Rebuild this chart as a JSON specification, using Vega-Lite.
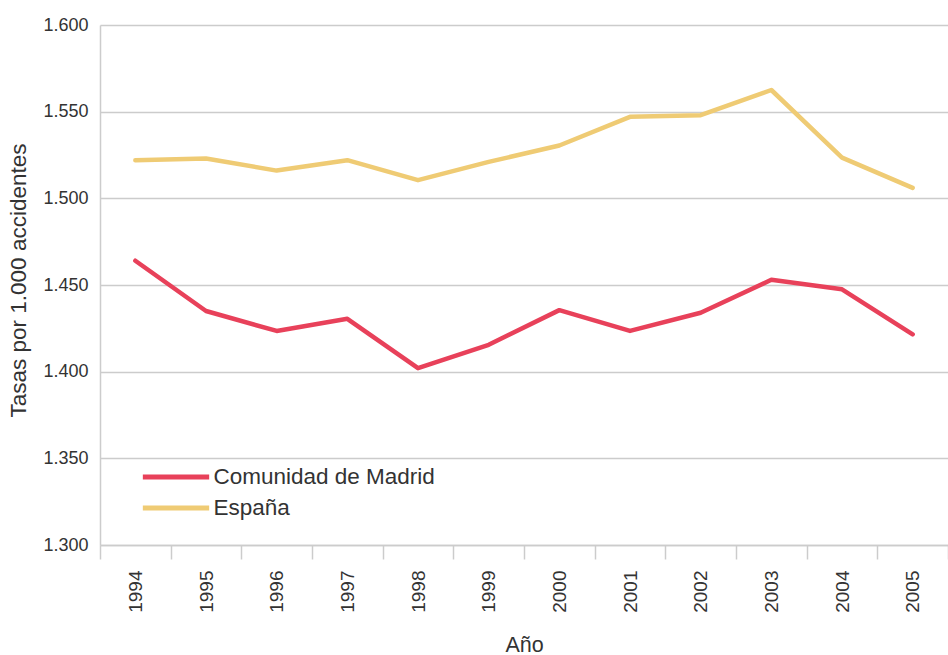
{
  "$schema": "https://vega.github.io/schema/vega-lite/v6.json",
  "autosize": "none",
  "width": 848,
  "height": 520,
  "padding": {"left": 100, "top": 25, "right": 0, "bottom": 110},
  "background": "white",
  "data": {
    "values": [
      {"year": "1994", "serie": "Comunidad de Madrid", "tasa": 1464},
      {"year": "1995", "serie": "Comunidad de Madrid", "tasa": 1435},
      {"year": "1996", "serie": "Comunidad de Madrid", "tasa": 1423.5},
      {"year": "1997", "serie": "Comunidad de Madrid", "tasa": 1430.5},
      {"year": "1998", "serie": "Comunidad de Madrid", "tasa": 1402},
      {"year": "1999", "serie": "Comunidad de Madrid", "tasa": 1415.5},
      {"year": "2000", "serie": "Comunidad de Madrid", "tasa": 1435.5},
      {"year": "2001", "serie": "Comunidad de Madrid", "tasa": 1423.5},
      {"year": "2002", "serie": "Comunidad de Madrid", "tasa": 1434},
      {"year": "2003", "serie": "Comunidad de Madrid", "tasa": 1453},
      {"year": "2004", "serie": "Comunidad de Madrid", "tasa": 1447.5},
      {"year": "2005", "serie": "Comunidad de Madrid", "tasa": 1421.5},
      {"year": "1994", "serie": "España", "tasa": 1522},
      {"year": "1995", "serie": "España", "tasa": 1523},
      {"year": "1996", "serie": "España", "tasa": 1516},
      {"year": "1997", "serie": "España", "tasa": 1522},
      {"year": "1998", "serie": "España", "tasa": 1510.5},
      {"year": "1999", "serie": "España", "tasa": 1521},
      {"year": "2000", "serie": "España", "tasa": 1530.5},
      {"year": "2001", "serie": "España", "tasa": 1547},
      {"year": "2002", "serie": "España", "tasa": 1548},
      {"year": "2003", "serie": "España", "tasa": 1562.5},
      {"year": "2004", "serie": "España", "tasa": 1523.5},
      {"year": "2005", "serie": "España", "tasa": 1506}
    ]
  },
  "mark": {"type": "line", "strokeWidth": 4.5, "strokeCap": "round", "strokeJoin": "round"},
  "encoding": {
    "x": {
      "field": "year",
      "type": "ordinal",
      "bandPosition": 0.5,
      "scale": {"type": "band", "paddingInner": 0, "paddingOuter": 0},
      "axis": {
        "title": "Año",
        "titleX": 424,
        "titleY": 100,
        "titleAlign": "center",
        "titleBaseline": "middle",
        "titleFontSize": 21.5,
        "titleFontWeight": "normal",
        "labelAngle": -90,
        "labelAlign": "right",
        "labelBaseline": "middle",
        "labelFontSize": 19,
        "labelPadding": 11,
        "tickBand": "extent",
        "tickSize": 14,
        "tickColor": "#cccccc",
        "tickWidth": 1.5,
        "domainColor": "#cccccc",
        "domainWidth": 1.5,
        "grid": false
      }
    },
    "y": {
      "field": "tasa",
      "type": "quantitative",
      "scale": {"domain": [1300, 1600], "nice": false, "zero": false},
      "axis": {
        "title": "Tasas por 1.000 accidentes",
        "titleX": -82,
        "titleY": 255,
        "titleAngle": -90,
        "titleAlign": "center",
        "titleBaseline": "middle",
        "titleFontSize": 22.5,
        "titleFontWeight": "normal",
        "values": [1300, 1350, 1400, 1450, 1500, 1550, 1600],
        "labelExpr": "replace(format(datum.value, ',d'), ',', '.')",
        "labelFontSize": 18,
        "labelPadding": 12,
        "ticks": false,
        "domain": true,
        "domainColor": "#cccccc",
        "domainWidth": 1.5,
        "grid": true,
        "gridColor": "#cccccc",
        "gridWidth": 1.5
      }
    },
    "color": {
      "field": "serie",
      "type": "nominal",
      "scale": {"domain": ["Comunidad de Madrid", "España"], "range": ["#E8415A", "#EFCB74"]},
      "legend": {
        "title": null,
        "orient": "none",
        "legendX": 56.5,
        "legendY": 432.5,
        "symbolType": "M-2,0H2",
        "symbolSize": 1100,
        "symbolStrokeWidth": 5,
        "symbolFillColor": "transparent",
        "labelFontSize": 22.5,
        "labelLimit": 500,
        "labelOffset": 18,
        "rowPadding": -4,
        "padding": 0
      }
    }
  },
  "config": {
    "view": {"stroke": null},
    "font": "Liberation Sans",
    "axis": {"labelColor": "#333333", "titleColor": "#333333"},
    "legend": {"labelColor": "#333333"}
  }
}
